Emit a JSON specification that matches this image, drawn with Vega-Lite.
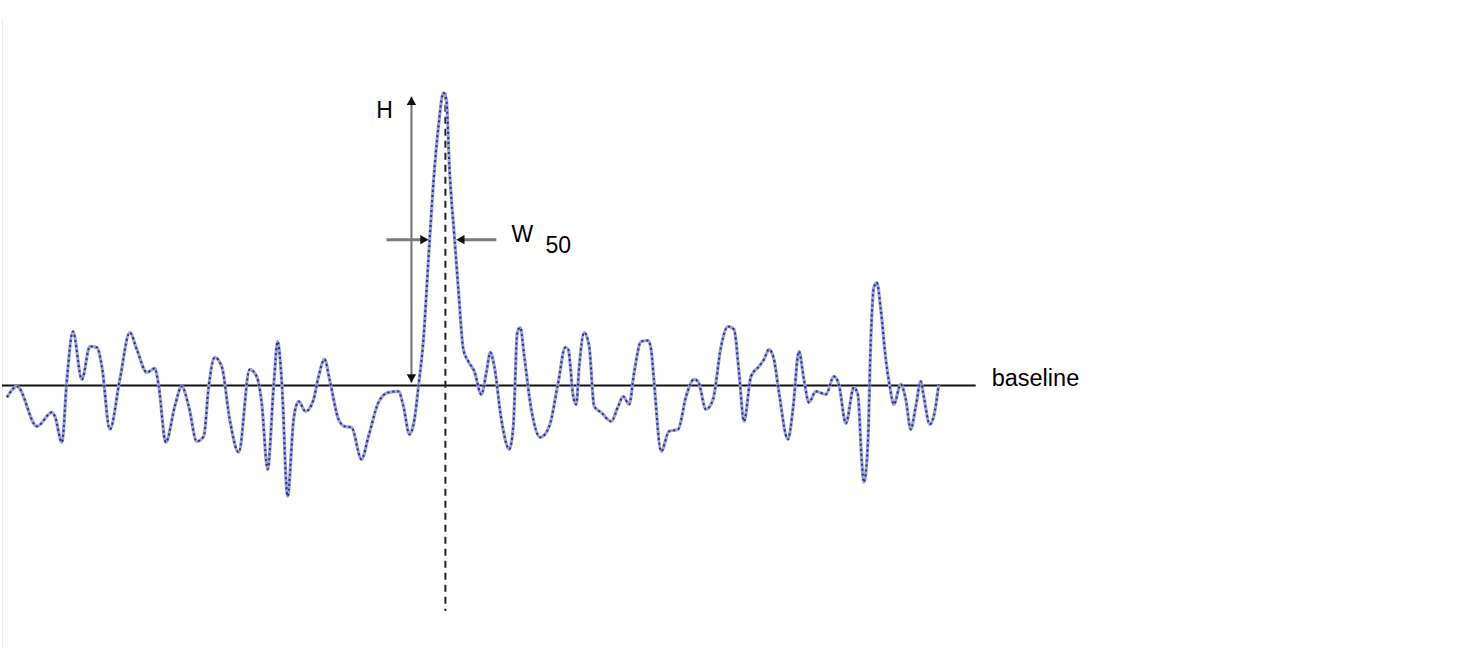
{
  "$schema": "https://vega.github.io/schema/vega-lite/v6.json",
  "width": 1477,
  "height": 650,
  "autosize": {"type": "fit", "contains": "padding"},
  "padding": 0,
  "background": "white",
  "config": {"view": {"stroke": null}},
  "datasets": {
    "signal": [
      {"t":5,"v":-12},{"t":15,"v":-1},{"t":35,"v":-41},{"t":50,"v":-27},{"t":53,"v":-31},{"t":60,"v":-57},{"t":65,"v":6},{"t":71,"v":54},{"t":80,"v":6},{"t":88,"v":39},{"t":95,"v":38},{"t":100,"v":19},{"t":108,"v":-44},{"t":118,"v":6},{"t":128,"v":53},{"t":135,"v":36},{"t":145,"v":13},{"t":153,"v":17},{"t":157,"v":-1},{"t":164,"v":-57},{"t":173,"v":-21},{"t":180,"v":-1},{"t":187,"v":-21},{"t":195,"v":-56},{"t":202,"v":-51},{"t":207,"v":-1},{"t":213,"v":28},{"t":220,"v":19},{"t":228,"v":-34},{"t":237,"v":-67},{"t":248,"v":16},{"t":255,"v":9},{"t":260,"v":-17},{"t":266,"v":-84},{"t":272,"v":-1},{"t":276,"v":44},{"t":280,"v":6},{"t":286,"v":-111},{"t":292,"v":-34},{"t":297,"v":-16},{"t":304,"v":-26},{"t":312,"v":-14},{"t":317,"v":9},{"t":323,"v":26},{"t":328,"v":6},{"t":337,"v":-34},{"t":343,"v":-41},{"t":350,"v":-42},{"t":360,"v":-74},{"t":367,"v":-51},{"t":377,"v":-17},{"t":387,"v":-7},{"t":397,"v":-6},{"t":402,"v":-21},{"t":408,"v":-49},{"t":413,"v":-34},{"t":417,"v":-1},{"t":422,"v":46},{"t":427,"v":126},{"t":432,"v":203},{"t":437,"v":259},{"t":442,"v":293},{"t":445,"v":286},{"t":448,"v":219},{"t":453,"v":149},{"t":457,"v":96},{"t":462,"v":36},{"t":467,"v":24},{"t":473,"v":14},{"t":480,"v":-9},{"t":485,"v":13},{"t":489,"v":33},{"t":493,"v":19},{"t":500,"v":-34},{"t":508,"v":-64},{"t":512,"v":-41},{"t":516,"v":53},{"t":519,"v":58},{"t":523,"v":29},{"t":530,"v":-24},{"t":539,"v":-52},{"t":548,"v":-41},{"t":557,"v":3},{"t":564,"v":38},{"t":567,"v":36},{"t":572,"v":-11},{"t":575,"v":-19},{"t":578,"v":19},{"t":583,"v":53},{"t":588,"v":39},{"t":593,"v":-21},{"t":600,"v":-27},{"t":610,"v":-36},{"t":617,"v":-21},{"t":622,"v":-11},{"t":628,"v":-19},{"t":633,"v":13},{"t":640,"v":44},{"t":647,"v":45},{"t":650,"v":36},{"t":653,"v":3},{"t":660,"v":-66},{"t":668,"v":-46},{"t":677,"v":-44},{"t":685,"v":-11},{"t":693,"v":6},{"t":697,"v":4},{"t":705,"v":-24},{"t":712,"v":-14},{"t":720,"v":39},{"t":727,"v":59},{"t":733,"v":56},{"t":738,"v":13},{"t":743,"v":-36},{"t":750,"v":9},{"t":758,"v":19},{"t":763,"v":26},{"t":768,"v":36},{"t":773,"v":26},{"t":778,"v":-7},{"t":787,"v":-54},{"t":792,"v":-24},{"t":798,"v":34},{"t":803,"v":6},{"t":808,"v":-17},{"t":815,"v":-6},{"t":825,"v":-9},{"t":833,"v":9},{"t":838,"v":1},{"t":845,"v":-38},{"t":853,"v":-2},{"t":857,"v":-9},{"t":861,"v":-77},{"t":863,"v":-97},{"t":867,"v":-59},{"t":870,"v":46},{"t":873,"v":98},{"t":876,"v":103},{"t":880,"v":76},{"t":885,"v":26},{"t":889,"v":-1},{"t":893,"v":-19},{"t":900,"v":1},{"t":905,"v":-14},{"t":910,"v":-44},{"t":915,"v":-21},{"t":920,"v":4},{"t":923,"v":-11},{"t":929,"v":-39},{"t":933,"v":-31},{"t":938,"v":1}
    ],
    "hrules": [
      {"t":0,"t2":975,"v":0,"kind":"baseline"}
    ],
    "warrows": [
      {"t":385,"t2":422,"v":146},
      {"t":460,"t2":495,"v":146}
    ],
    "heads": [
      {"t":410,"v":285,"shape":"triangle-up"},
      {"t":410,"v":7,"shape":"triangle-down"},
      {"t":423,"v":146,"shape":"triangle-right"},
      {"t":459,"v":146,"shape":"triangle-left"}
    ],
    "harrow": [{"t":410,"v":289,"v2":3}],
    "peakline": [{"t":444,"v":293,"v2":-226}],
    "border": [{"t":0.5,"v":366,"v2":-264}],
    "labels": [
      {"t":383,"v":268,"label":"H","align":"center"},
      {"t":521,"v":144,"label":"W","align":"center"},
      {"t":557,"v":133,"label":"50","align":"center"},
      {"t":991,"v":-1,"label":"baseline","align":"left"}
    ]
  },
  "layer": [
    {
      "data": {"name": "border"},
      "mark": {"type": "rule", "color": "#ececec", "strokeWidth": 1},
      "encoding": {
        "x": {"field": "t", "type": "quantitative", "scale": {"domain": [0, 1477], "nice": false, "zero": false}, "axis": null},
        "y": {"field": "v", "type": "quantitative", "scale": {"domain": [-264, 386], "nice": false, "zero": false}, "axis": null},
        "y2": {"field": "v2"}
      }
    },
    {
      "data": {"name": "hrules"},
      "mark": {"type": "rule", "color": "#111111", "strokeWidth": 2},
      "encoding": {
        "x": {"field": "t", "type": "quantitative"},
        "x2": {"field": "t2"},
        "y": {"field": "v", "type": "quantitative"}
      }
    },
    {
      "data": {"name": "peakline"},
      "mark": {"type": "rule", "color": "#222222", "strokeWidth": 2, "strokeDash": [7, 5]},
      "encoding": {
        "x": {"field": "t", "type": "quantitative"},
        "y": {"field": "v", "type": "quantitative"},
        "y2": {"field": "v2"}
      }
    },
    {
      "data": {"name": "harrow"},
      "mark": {"type": "rule", "color": "#707070", "strokeWidth": 2},
      "encoding": {
        "x": {"field": "t", "type": "quantitative"},
        "y": {"field": "v", "type": "quantitative"},
        "y2": {"field": "v2"}
      }
    },
    {
      "data": {"name": "warrows"},
      "mark": {"type": "rule", "color": "#7a7a7a", "strokeWidth": 3},
      "encoding": {
        "x": {"field": "t", "type": "quantitative"},
        "x2": {"field": "t2"},
        "y": {"field": "v", "type": "quantitative"}
      }
    },
    {
      "data": {"name": "signal"},
      "mark": {"type": "line", "color": "#9da1d8", "strokeWidth": 3.2, "interpolate": "monotone"},
      "encoding": {
        "x": {"field": "t", "type": "quantitative"},
        "y": {"field": "v", "type": "quantitative"}
      }
    },
    {
      "data": {"name": "signal"},
      "mark": {"type": "line", "color": "#262a8e", "strokeWidth": 2, "strokeDash": [2, 3], "interpolate": "monotone"},
      "encoding": {
        "x": {"field": "t", "type": "quantitative"},
        "y": {"field": "v", "type": "quantitative"}
      }
    },
    {
      "data": {"name": "heads"},
      "mark": {"type": "point", "filled": true, "color": "#111111", "opacity": 1, "size": 90},
      "encoding": {
        "x": {"field": "t", "type": "quantitative"},
        "y": {"field": "v", "type": "quantitative"},
        "shape": {"field": "shape", "type": "nominal", "scale": null, "legend": null}
      }
    },
    {
      "data": {"name": "labels"},
      "transform": [{"filter": "datum.align == 'center'"}],
      "mark": {"type": "text", "font": "Liberation Sans", "fontSize": 23, "color": "#000000", "align": "center", "baseline": "alphabetic"},
      "encoding": {
        "x": {"field": "t", "type": "quantitative"},
        "y": {"field": "v", "type": "quantitative"},
        "text": {"field": "label"}
      }
    },
    {
      "data": {"name": "labels"},
      "transform": [{"filter": "datum.align == 'left'"}],
      "mark": {"type": "text", "font": "Liberation Sans", "fontSize": 23.5, "color": "#000000", "align": "left", "baseline": "alphabetic"},
      "encoding": {
        "x": {"field": "t", "type": "quantitative"},
        "y": {"field": "v", "type": "quantitative"},
        "text": {"field": "label"}
      }
    }
  ]
}
